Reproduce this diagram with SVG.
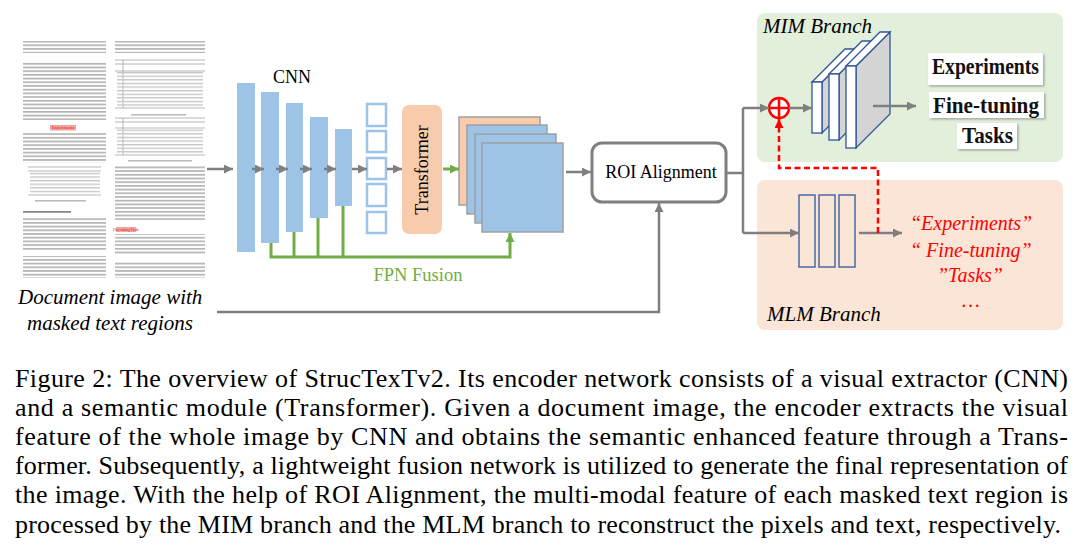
<svg xmlns="http://www.w3.org/2000/svg" width="1090" height="555" viewBox="0 0 1090 555" font-family="Liberation Serif, Times New Roman, serif">
<defs>
<style>
.gl{stroke:#7f7f7f;stroke-width:2.5;fill:none}
.gn{stroke:#70ad47;stroke-width:3;fill:none}
.bar{fill:#9dc3e6}
.sq{fill:#fff;stroke:#9dc3e6;stroke-width:2.5}
.fm{stroke:#a0a0a0;stroke-width:1.5}
.slabf{fill:#fff;stroke:#2f5597;stroke-width:1.3}
.slabs{fill:#d4d4d4;stroke:#2f5597;stroke-width:1.3}
.mlm{fill:none;stroke:#4a6aa5;stroke-width:1.5}
.bt{font-weight:bold;font-size:24px;fill:#111}
.rt{font-style:italic;font-size:20px;fill:#ff0000}
.it{font-style:italic;font-size:21px;fill:#000}
.cap{font-size:26px;fill:#000}
.tx{fill:url(#tl)}
.tb{stroke:#999;stroke-width:0.7;fill:none}
</style>
<marker id="ag" markerUnits="userSpaceOnUse" markerWidth="10" markerHeight="9" refX="9" refY="4.5" orient="auto"><path d="M0,0 L9,4.5 L0,9 z" fill="#7f7f7f"/></marker>
<marker id="agn" markerUnits="userSpaceOnUse" markerWidth="10" markerHeight="9" refX="9" refY="4.5" orient="auto"><path d="M0,0 L9,4.5 L0,9 z" fill="#70ad47"/></marker>
<marker id="ar" markerUnits="userSpaceOnUse" markerWidth="10" markerHeight="9" refX="9" refY="4.5" orient="auto"><path d="M0,0 L9,4.5 L0,9 z" fill="#ff0000"/></marker>
<pattern id="tl" patternUnits="userSpaceOnUse" width="4" height="3.7"><rect width="4" height="1.7" fill="#b4b4b4"/></pattern>
<pattern id="tl2" patternUnits="userSpaceOnUse" width="4" height="3.6"><rect width="4" height="1.3" fill="#c4c4c4"/></pattern>
<filter id="blur"><feGaussianBlur stdDeviation="0.5"/></filter>
<filter id="sh" x="-10%" y="-20%" width="130%" height="150%"><feDropShadow dx="1.5" dy="1.5" stdDeviation="1.2" flood-color="#888" flood-opacity="0.7"/></filter>
</defs>
<rect width="1090" height="555" fill="#fff"/>

<g id="document" filter="url(#blur)">
<rect class="tx" x="23" y="41" width="83" height="12"/>
<rect class="tx" x="23" y="61" width="83" height="59"/>
<rect x="50" y="125" width="26" height="5.5" fill="#f7a1a1"/>
<text x="63" y="129.3" font-size="4.5" fill="#c03030" text-anchor="middle">Experiments</text>
<rect class="tx" x="23" y="133" width="83" height="30"/>
<line class="tb" x1="28" y1="167" x2="101" y2="167"/>
<line class="tb" x1="28" y1="171" x2="101" y2="171"/>
<line class="tb" x1="28" y1="195" x2="101" y2="195"/>
<rect fill="url(#tl2)" x="30" y="172" width="70" height="22"/>
<rect fill="#bcbcbc" x="35" y="200" width="51" height="1.6"/>
<rect fill="#888" x="23" y="211" width="48" height="1.8"/>
<rect class="tx" x="23" y="217" width="83" height="33"/>
<rect class="tx" x="23" y="256" width="83" height="22"/>
<rect class="tx" x="115" y="41" width="90" height="12"/>
<line class="tb" x1="115" y1="60" x2="205" y2="60"/>
<line class="tb" x1="115" y1="64" x2="205" y2="64"/>
<line class="tb" x1="115" y1="71" x2="205" y2="71"/>
<line class="tb" x1="115" y1="108" x2="205" y2="108"/>
<line class="tb" x1="123" y1="60" x2="123" y2="108"/>
<rect fill="url(#tl2)" x="117" y="72" width="86" height="35"/>
<rect fill="#bcbcbc" x="131" y="114" width="55" height="1.6"/>
<line class="tb" x1="115" y1="118" x2="205" y2="118"/>
<line class="tb" x1="115" y1="122" x2="205" y2="122"/>
<line class="tb" x1="115" y1="128" x2="205" y2="128"/>
<line class="tb" x1="115" y1="155" x2="205" y2="155"/>
<line class="tb" x1="123" y1="118" x2="123" y2="155"/>
<rect fill="url(#tl2)" x="117" y="129" width="86" height="25"/>
<rect fill="#bcbcbc" x="128" y="160" width="64" height="1.6"/>
<rect class="tx" x="115" y="165" width="90" height="55"/>
<rect x="116" y="227" width="20" height="5" fill="#f7a1a1"/>
<text x="126" y="231" font-size="3.6" fill="#c03030" text-anchor="middle">Fine-tuning Tasks</text>
<rect class="tx" x="115" y="234" width="90" height="21"/>
<rect class="tx" x="115" y="262" width="90" height="16"/>
</g>
<g id="doc-label">
<text class="it" x="18" y="304">Document image with</text>
<text class="it" x="27" y="330">masked text regions</text>
</g>

<g id="cnn">
<text x="292" y="83" font-size="18" text-anchor="middle">CNN</text>
<rect class="bar" x="237" y="83" width="18" height="169"/>
<rect class="bar" x="261" y="92" width="18" height="151"/>
<rect class="bar" x="286" y="103" width="17" height="129"/>
<rect class="bar" x="310" y="117" width="18" height="101"/>
<rect class="bar" x="335" y="129" width="17" height="77"/>
</g>
<g id="tokens">
<rect class="sq" x="367" y="104" width="19" height="22"/>
<rect class="sq" x="367" y="131" width="19" height="21"/>
<rect class="sq" x="367" y="158" width="19" height="21"/>
<rect class="sq" x="367" y="184" width="19" height="22"/>
<rect class="sq" x="367" y="212" width="19" height="21"/>
</g>
<g id="transformer">
<rect x="402" y="105" width="40" height="129" rx="7" fill="#f8cbad"/>
<text font-size="18" text-anchor="middle" transform="translate(428,170) rotate(-90)">Transformer</text>
</g>
<g id="feature-maps">
<rect class="fm" x="459" y="117" width="81" height="88" fill="#f8cbad"/>
<rect class="fm" x="467" y="125" width="80" height="89" fill="#9dc3e6"/>
<rect class="fm" x="475" y="134" width="81" height="89" fill="#9dc3e6"/>
<rect class="fm" x="482" y="143" width="81" height="89" fill="#9dc3e6"/>
</g>
<g id="fpn-label">
<text x="418" y="281" font-size="18.5" fill="#70ad47" text-anchor="middle">FPN Fusion</text>
</g>
<g id="roi">
<rect x="592" y="143" width="134" height="59" rx="10" fill="#fff" stroke="#7f7f7f" stroke-width="3"/>
<text x="661" y="178" font-size="18" text-anchor="middle">ROI Alignment</text>
</g>
<g id="mim-branch">
<rect x="757" y="13" width="306" height="149" rx="8" fill="#e2efda"/>
<text class="it" x="763" y="33">MIM Branch</text>
<polygon class="slabs" points="822,82 855,49 855,100 822,133"/>
<polygon class="slabf" points="812,82 845,49 855,49 822,82"/>
<rect class="slabf" x="812" y="82" width="10" height="51"/>
<polygon class="slabs" points="839,74 872,41 872,107 839,140"/>
<polygon class="slabf" points="829,74 862,41 872,41 839,74"/>
<rect class="slabf" x="829" y="74" width="10" height="66"/>
<polygon class="slabs" points="856,66 890,32 890,114 856,148"/>
<polygon class="slabf" points="846,66 880,32 890,32 856,66"/>
<rect class="slabf" x="846" y="66" width="10" height="82"/>
<g filter="url(#sh)">
<rect x="928" y="53" width="115" height="32" fill="#fff"/>
<rect x="929" y="92" width="115" height="26" fill="#fff"/>
<rect x="957" y="123" width="60" height="26" fill="#fff"/>
</g>
<text class="bt" x="932" y="74" textLength="107" lengthAdjust="spacingAndGlyphs">Experiments</text>
<text class="bt" x="933" y="113" textLength="106" lengthAdjust="spacingAndGlyphs">Fine-tuning</text>
<text class="bt" x="962" y="143" textLength="51" lengthAdjust="spacingAndGlyphs">Tasks</text>
</g>
<g id="add">
<circle cx="779" cy="108" r="10" fill="#fff" stroke="#ff0000" stroke-width="2.5"/>
<path d="M769,108 H789 M779,98 V118" stroke="#ff0000" stroke-width="2.5"/>
</g>
<g id="mlm-branch">
<rect x="757" y="180" width="306" height="150" rx="8" fill="#fbe5d6"/>
<text class="it" x="767" y="321">MLM Branch</text>
<rect class="mlm" x="799" y="195" width="16" height="72"/>
<rect class="mlm" x="819" y="195" width="16" height="72"/>
<rect class="mlm" x="839" y="195" width="16" height="72"/>
<text class="rt" x="910" y="230">“Experiments”</text>
<text class="rt" x="910" y="257">“ Fine-tuning”</text>
<text class="rt" x="937" y="282">”Tasks”</text>
<text class="rt" x="962" y="307">…</text>
</g>

<g id="connectors">
<line class="gl" x1="207" y1="169" x2="233" y2="169" marker-end="url(#ag)"/>
<line class="gl" x1="252" y1="169" x2="264" y2="169" marker-end="url(#ag)"/>
<line class="gl" x1="276" y1="169" x2="288" y2="169" marker-end="url(#ag)"/>
<line class="gl" x1="300" y1="169" x2="312" y2="169" marker-end="url(#ag)"/>
<line class="gl" x1="324" y1="169" x2="336" y2="169" marker-end="url(#ag)"/>
<line class="gl" x1="352" y1="169" x2="367" y2="169" marker-end="url(#ag)"/>
<line class="gl" x1="387" y1="169" x2="402" y2="169" marker-end="url(#ag)"/>
<path class="gn" d="M271,243 V257 H510 V233" marker-end="url(#agn)"/>
<path class="gn" d="M294,232 V257 M318,218 V257 M343,206 V257"/>
<line class="gn" x1="443" y1="169" x2="459" y2="169" marker-end="url(#agn)"/>
<line class="gl" x1="566" y1="172" x2="591" y2="172" marker-end="url(#ag)"/>
<path class="gl" d="M217,312 H659 V203" stroke-width="3" marker-end="url(#ag)"/>
<path class="gl" d="M726,173 H743 M743,108 V233"/>
<line class="gl" x1="743" y1="108" x2="769" y2="108" marker-end="url(#ag)"/>
<line class="gl" x1="789" y1="108" x2="812" y2="108" marker-end="url(#ag)"/>
<line class="gl" x1="743" y1="233" x2="799" y2="233" marker-end="url(#ag)"/>
<line class="gl" x1="873" y1="106" x2="916" y2="106" marker-end="url(#ag)"/>
<line class="gl" x1="859" y1="233" x2="902" y2="233" marker-end="url(#ag)"/>
<path d="M878,233 V168 H779 V119" fill="none" stroke="#ff0000" stroke-width="2.5" stroke-dasharray="6,3.5" marker-end="url(#ar)"/>
</g>

<g id="caption">
<text class="cap" x="15" y="387" textLength="1053" lengthAdjust="spacing">Figure 2: The overview of StrucTexTv2. Its encoder network consists of a visual extractor (CNN)</text>
<text class="cap" x="15" y="416" textLength="1053" lengthAdjust="spacing">and a semantic module (Transformer).  Given a document image, the encoder extracts the visual</text>
<text class="cap" x="15" y="445" textLength="1053" lengthAdjust="spacing">feature of the whole image by CNN and obtains the semantic enhanced feature through a Trans-</text>
<text class="cap" x="15" y="474" textLength="1053" lengthAdjust="spacing">former. Subsequently, a lightweight fusion network is utilized to generate the final representation of</text>
<text class="cap" x="15" y="503" textLength="1053" lengthAdjust="spacing">the image. With the help of ROI Alignment, the multi-modal feature of each masked text region is</text>
<text class="cap" x="15" y="533" textLength="1046" lengthAdjust="spacing">processed by the MIM branch and the MLM branch to reconstruct the pixels and text, respectively.</text>
</g>
</svg>
